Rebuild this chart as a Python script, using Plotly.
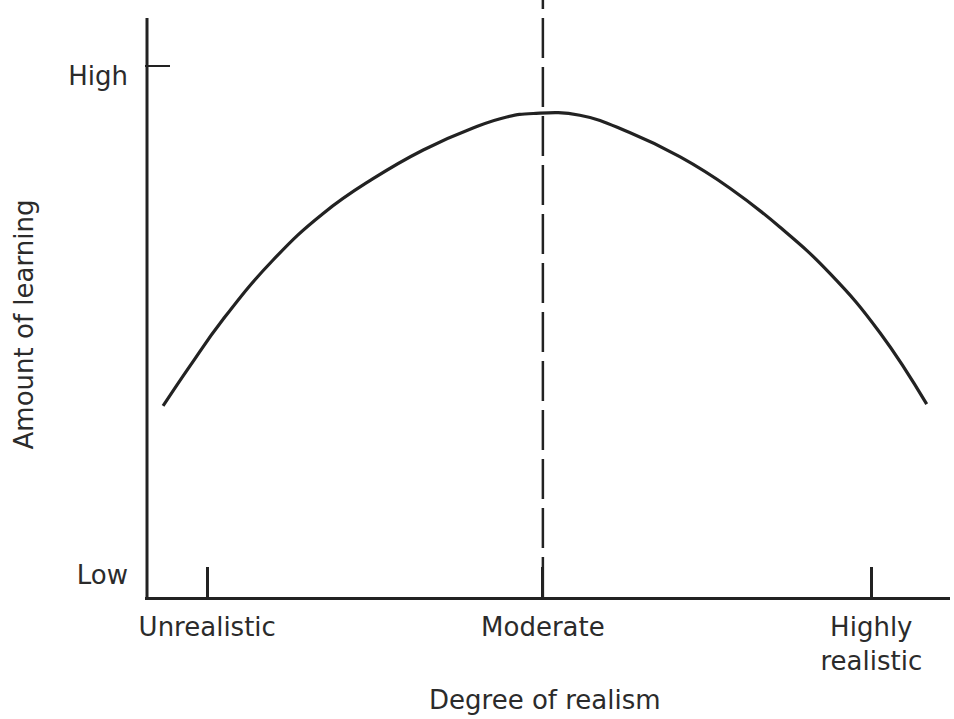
import plotly.graph_objects as go

# Curve: degree of realism (x) vs amount of learning (y), arbitrary units
realism = [0.20, 0.54, 0.95, 1.57, 2.19, 2.81, 3.44, 4.06, 4.48, 4.81,
           5.39, 6.01, 6.64, 7.26, 7.88, 8.51, 9.13, 9.71]
learning = [3.30, 4.00, 4.80, 5.82, 6.62, 7.22, 7.72, 8.10, 8.29, 8.35,
            8.32, 8.02, 7.60, 7.06, 6.39, 5.58, 4.56, 3.33]

x_tick_vals = [0.75, 4.93, 9.02]
x_tick_text = ["Unrealistic", "Moderate", "Highly<br>realistic"]
y_label_vals = [0.38, 9.0]
y_label_text = ["Low", "High"]
y_high_tick = [9.17]
moderate_x = 4.93
y_axis_top = 10.0

INK = "#222222"
TEXT = "#2b2b2b"
FONT = "DejaVu Sans"

fig = go.Figure()
fig.add_trace(go.Scatter(
    x=realism, y=learning, mode="lines",
    line=dict(color=INK, width=3.2, shape="spline", smoothing=1.3),
    hoverinfo="skip", showlegend=False,
))

# dashed vertical line at "Moderate"
fig.add_shape(type="line", xref="x", yref="y",
              x0=moderate_x, x1=moderate_x, y0=0, y1=11,
              line=dict(color=INK, width=2.5, dash="40px,9px"))
# y-axis line
fig.add_shape(type="line", xref="x", yref="y",
              x0=0, x1=0, y0=0, y1=y_axis_top,
              line=dict(color=INK, width=3))

fig.add_annotation(text="Amount of learning", textangle=-90,
                   xref="paper", yref="paper", x=-0.15, y=0.457,
                   xanchor="center", yanchor="middle",
                   showarrow=False, font=dict(family=FONT, size=26, color=TEXT))
fig.add_annotation(text="Degree of realism",
                   xref="x", yref="paper", x=4.96, y=-0.1725,
                   xanchor="center", yanchor="middle",
                   showarrow=False, font=dict(family=FONT, size=26, color=TEXT))

fig.update_layout(
    width=954, height=719,
    margin=dict(l=145, r=4, t=0, b=122),
    paper_bgcolor="white", plot_bgcolor="white",
    font=dict(family=FONT, size=26, color=TEXT),
    xaxis=dict(range=[-0.025, 10], showgrid=False, zeroline=False,
               showline=True, linecolor=INK, linewidth=3,
               tickmode="array", tickvals=x_tick_vals, ticktext=x_tick_text,
               ticks="inside", ticklen=30, tickwidth=2.5, tickcolor=INK,
               ticklabelstandoff=5,
               tickfont=dict(family=FONT, size=26, color=TEXT)),
    yaxis=dict(range=[0, 10.31], showgrid=False, zeroline=False,
               showline=False,
               tickmode="array", tickvals=y_label_vals, ticktext=y_label_text,
               ticks="", ticklabelstandoff=16,
               tickfont=dict(family=FONT, size=26, color=TEXT),
               minor=dict(tickmode="array", tickvals=y_high_tick,
                          ticks="inside", ticklen=25, tickwidth=2,
                          tickcolor=INK, showgrid=False)),
)

fig.write_html("out.html",
               config={"displayModeBar": False},
               post_script="document.body.style.margin='0';")
